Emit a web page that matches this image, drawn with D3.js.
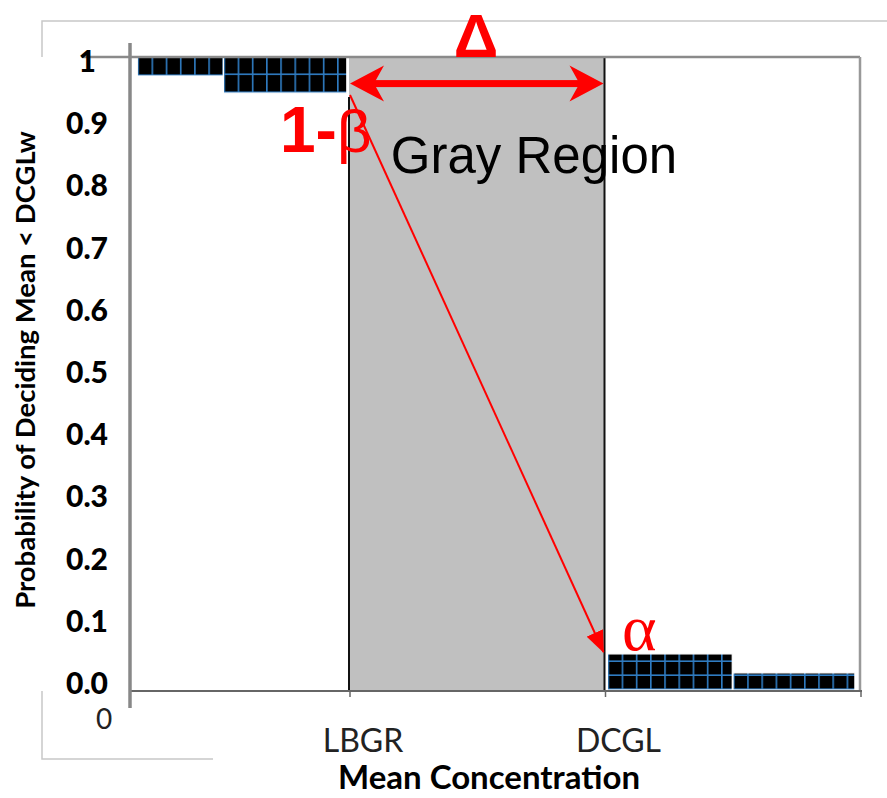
<!DOCTYPE html>
<html>
<head>
<meta charset="utf-8">
<script src="https://cdn.jsdelivr.net/npm/d3@7"></script>
<style>
body { margin: 0; background: #fff; }
</style>
</head>
<body>
<svg id="chart" width="887" height="798"></svg>
<script>
// values
var yTickValues = [0, 0.1, 0.2, 0.3, 0.4, 0.5, 0.6, 0.7, 0.8, 0.9, 1];
var yTickLabels = ['0.0', '0.1', '0.2', '0.3', '0.4', '0.5', '0.6', '0.7', '0.8', '0.9', '1'];
var xTickValues = [0, 30, 65];
var xTickLabels = ['0', 'LBGR', 'DCGL'];
var barStart = [1, 12.8, 65.4, 82.6];
var barEnd = [12.8, 29.7, 82.5, 99.3];
var barValue = [0.97, 0.943, 0.057, 0.027];
var barFromTop = [true, true, false, false];
var grayStart = 30;   // LBGR
var grayEnd = 65;     // DCGL
var power = 0.94;     // 1-beta at LBGR
var alpha = 0.06;     // alpha at DCGL

var svg = d3.select('#chart');

var x = d3.scaleLinear().domain([0, 100]).range([130, 860]);
var y = d3.scaleLinear().domain([0, 1]).range([690, 57]);
// the tick text sits a little off the gridline positions in the picture
var yLab = d3.scaleLinear().domain([0, 1]).range([694, 72]);

var defs = svg.append('defs');

// light outer frame pieces
svg.append('path')
    .attr('d', 'M42,57 L42,21 L887,21')
    .attr('fill', 'none').attr('stroke', '#c8c8c8').attr('stroke-width', 1.5);
svg.append('path')
    .attr('d', 'M42,691 L42,759 L213,759')
    .attr('fill', 'none').attr('stroke', '#c8c8c8').attr('stroke-width', 1.5);

// gray region
svg.append('rect')
    .attr('x', x(grayStart))
    .attr('y', y(1))
    .attr('width', x(grayEnd) - x(grayStart))
    .attr('height', y(0) - y(1))
    .attr('fill', '#c0c0c0');

// bars with the black and blue grid fill
barValue.forEach(function (v, i) {
    var x0 = x(barStart[i]);
    var x1 = x(barEnd[i]);
    var top = barFromTop[i] ? y(1) : y(v);
    var bottom = barFromTop[i] ? y(v) : y(0);
    var cellH = barFromTop[i] ? 18 : 14;
    var cellW = 14.2;

    var pat = defs.append('pattern')
        .attr('id', 'grid-' + i)
        .attr('patternUnits', 'userSpaceOnUse')
        .attr('x', x0)
        .attr('y', bottom)
        .attr('width', cellW)
        .attr('height', cellH);
    pat.append('rect')
        .attr('width', cellW).attr('height', cellH).attr('fill', '#000');
    pat.append('rect')
        .attr('x', 0).attr('y', 0).attr('width', 1.6).attr('height', cellH)
        .attr('fill', '#2f7cc2');
    pat.append('rect')
        .attr('x', 0).attr('y', cellH - 1.6).attr('width', cellW).attr('height', 1.6)
        .attr('fill', '#2f7cc2');

    svg.append('rect')
        .attr('x', x0)
        .attr('y', top)
        .attr('width', x1 - x0)
        .attr('height', bottom - top)
        .attr('fill', 'url(#grid-' + i + ')')
        .attr('stroke', '#fff')
        .attr('stroke-width', 1.2);
});

// black edges of the gray region
svg.append('line')
    .attr('x1', x(grayStart)).attr('x2', x(grayStart))
    .attr('y1', y(power) + 2).attr('y2', y(0))
    .attr('stroke', '#111').attr('stroke-width', 2);
svg.append('line')
    .attr('x1', x(grayEnd)).attr('x2', x(grayEnd))
    .attr('y1', y(1)).attr('y2', y(0))
    .attr('stroke', '#111').attr('stroke-width', 2);

// plot frame
svg.append('line')
    .attr('x1', 82).attr('x2', x(100))
    .attr('y1', y(1)).attr('y2', y(1))
    .attr('stroke', '#8a8a8a').attr('stroke-width', 2.5);
svg.append('line')
    .attr('x1', x(100)).attr('x2', x(100))
    .attr('y1', y(1)).attr('y2', y(0))
    .attr('stroke', '#999').attr('stroke-width', 2.5);
svg.append('line')
    .attr('x1', x(0)).attr('x2', x(100) + 2)
    .attr('y1', y(0) + 1).attr('y2', y(0) + 1)
    .attr('stroke', '#666').attr('stroke-width', 2);
svg.append('line')
    .attr('x1', x(0)).attr('x2', x(0))
    .attr('y1', 43).attr('y2', 708)
    .attr('stroke', '#888').attr('stroke-width', 3.5);

// small x ticks
svg.selectAll('.xtick')
    .data([grayStart, grayEnd, 100])
    .enter().append('line')
    .attr('class', 'xtick')
    .attr('x1', function (d) { return x(d) + 1; })
    .attr('x2', function (d) { return x(d) + 1; })
    .attr('y1', y(0) + 1).attr('y2', y(0) + 7)
    .attr('stroke', '#666').attr('stroke-width', 1.5);

// y tick labels
svg.selectAll('.ylab')
    .data(yTickValues)
    .enter().append('text')
    .attr('class', 'ylab')
    .attr('x', function (d, i) { return yTickLabels[i] === '1' ? 96 : 108; })
    .attr('y', function (d) { return yLab(d); })
    .attr('text-anchor', 'end')
    .attr('font-family', 'Lato, sans-serif')
    .attr('font-weight', 900)
    .attr('font-size', 30)
    .attr('fill', '#000')
    .text(function (d, i) { return yTickLabels[i]; });

// x tick labels
svg.selectAll('.xlab')
    .data(xTickValues)
    .enter().append('text')
    .attr('class', 'xlab')
    .attr('x', function (d) { return d === 0 ? 104 : x(d) + 14; })
    .attr('y', function (d) { return d === 0 ? 729 : 752; })
    .attr('text-anchor', 'middle')
    .attr('font-family', 'Lato, sans-serif')
    .attr('font-size', function (d) { return d === 0 ? 28 : 32; })
    .attr('fill', '#222')
    .text(function (d, i) { return xTickLabels[i]; });

// axis titles
svg.append('text')
    .attr('x', 489).attr('y', 789)
    .attr('text-anchor', 'middle')
    .attr('font-family', 'Lato, sans-serif')
    .attr('font-weight', 'bold')
    .attr('font-size', 33)
    .text('Mean Concentration');

svg.append('text')
    .attr('transform', 'translate(35,370) rotate(-90)')
    .attr('text-anchor', 'middle')
    .attr('font-family', 'Lato, sans-serif')
    .attr('font-weight', 'bold')
    .attr('font-size', 27.5)
    .text('Probability of Deciding Mean < DCGLw');

// annotations
var red = '#ff0000';
var ay = y(0.958);
var ax0 = x(grayStart) + 1;
var ax1 = x(grayEnd) - 1;
svg.append('rect')
    .attr('x', ax0 + 20).attr('y', ay - 3.5)
    .attr('width', ax1 - ax0 - 40).attr('height', 7)
    .attr('fill', red);
svg.append('path')
    .attr('d', 'M' + ax0 + ',' + ay + ' L' + (ax0 + 34) + ',' + (ay - 18) +
        ' L' + (ax0 + 24) + ',' + ay + ' L' + (ax0 + 34) + ',' + (ay + 18) + ' Z')
    .attr('fill', red);
svg.append('path')
    .attr('d', 'M' + ax1 + ',' + ay + ' L' + (ax1 - 34) + ',' + (ay - 18) +
        ' L' + (ax1 - 24) + ',' + ay + ' L' + (ax1 - 34) + ',' + (ay + 18) + ' Z')
    .attr('fill', red);

svg.append('text')
    .attr('x', 476).attr('y', 57)
    .attr('text-anchor', 'middle')
    .attr('font-family', 'Liberation Sans, Arial, sans-serif')
    .attr('font-weight', 'bold')
    .attr('font-size', 62)
    .attr('fill', red)
    .text('Δ');

defs.append('marker')
    .attr('id', 'head')
    .attr('markerUnits', 'userSpaceOnUse')
    .attr('viewBox', '0 0 22 18')
    .attr('markerWidth', 22).attr('markerHeight', 18)
    .attr('refX', 21).attr('refY', 9)
    .attr('orient', 'auto')
    .append('path')
    .attr('d', 'M0,0 L22,9 L0,18 Z')
    .attr('fill', red);

svg.append('line')
    .attr('x1', x(grayStart) + 1).attr('y1', y(power))
    .attr('x2', x(grayEnd) - 1).attr('y2', y(alpha))
    .attr('stroke', red).attr('stroke-width', 2)
    .attr('marker-end', 'url(#head)');

var oneBeta = svg.append('text')
    .attr('x', 280).attr('y', 152)
    .attr('font-family', 'Liberation Sans, Arial, sans-serif')
    .attr('font-weight', 'bold')
    .attr('font-size', 64)
    .attr('fill', red);
oneBeta.append('tspan').text('1-');
oneBeta.append('tspan').attr('font-weight', 'normal').attr('font-size', 60).text('β');

svg.append('text')
    .attr('x', 534).attr('y', 173)
    .attr('text-anchor', 'middle')
    .attr('font-family', 'Liberation Sans, Arial, sans-serif')
    .attr('font-size', 51)
    .attr('fill', '#000')
    .text('Gray Region');

svg.append('text')
    .attr('x', 622).attr('y', 650)
    .attr('font-family', 'Liberation Serif, serif')
    .attr('font-size', 66)
    .attr('fill', red)
    .text('α');
</script>
</body>
</html>
